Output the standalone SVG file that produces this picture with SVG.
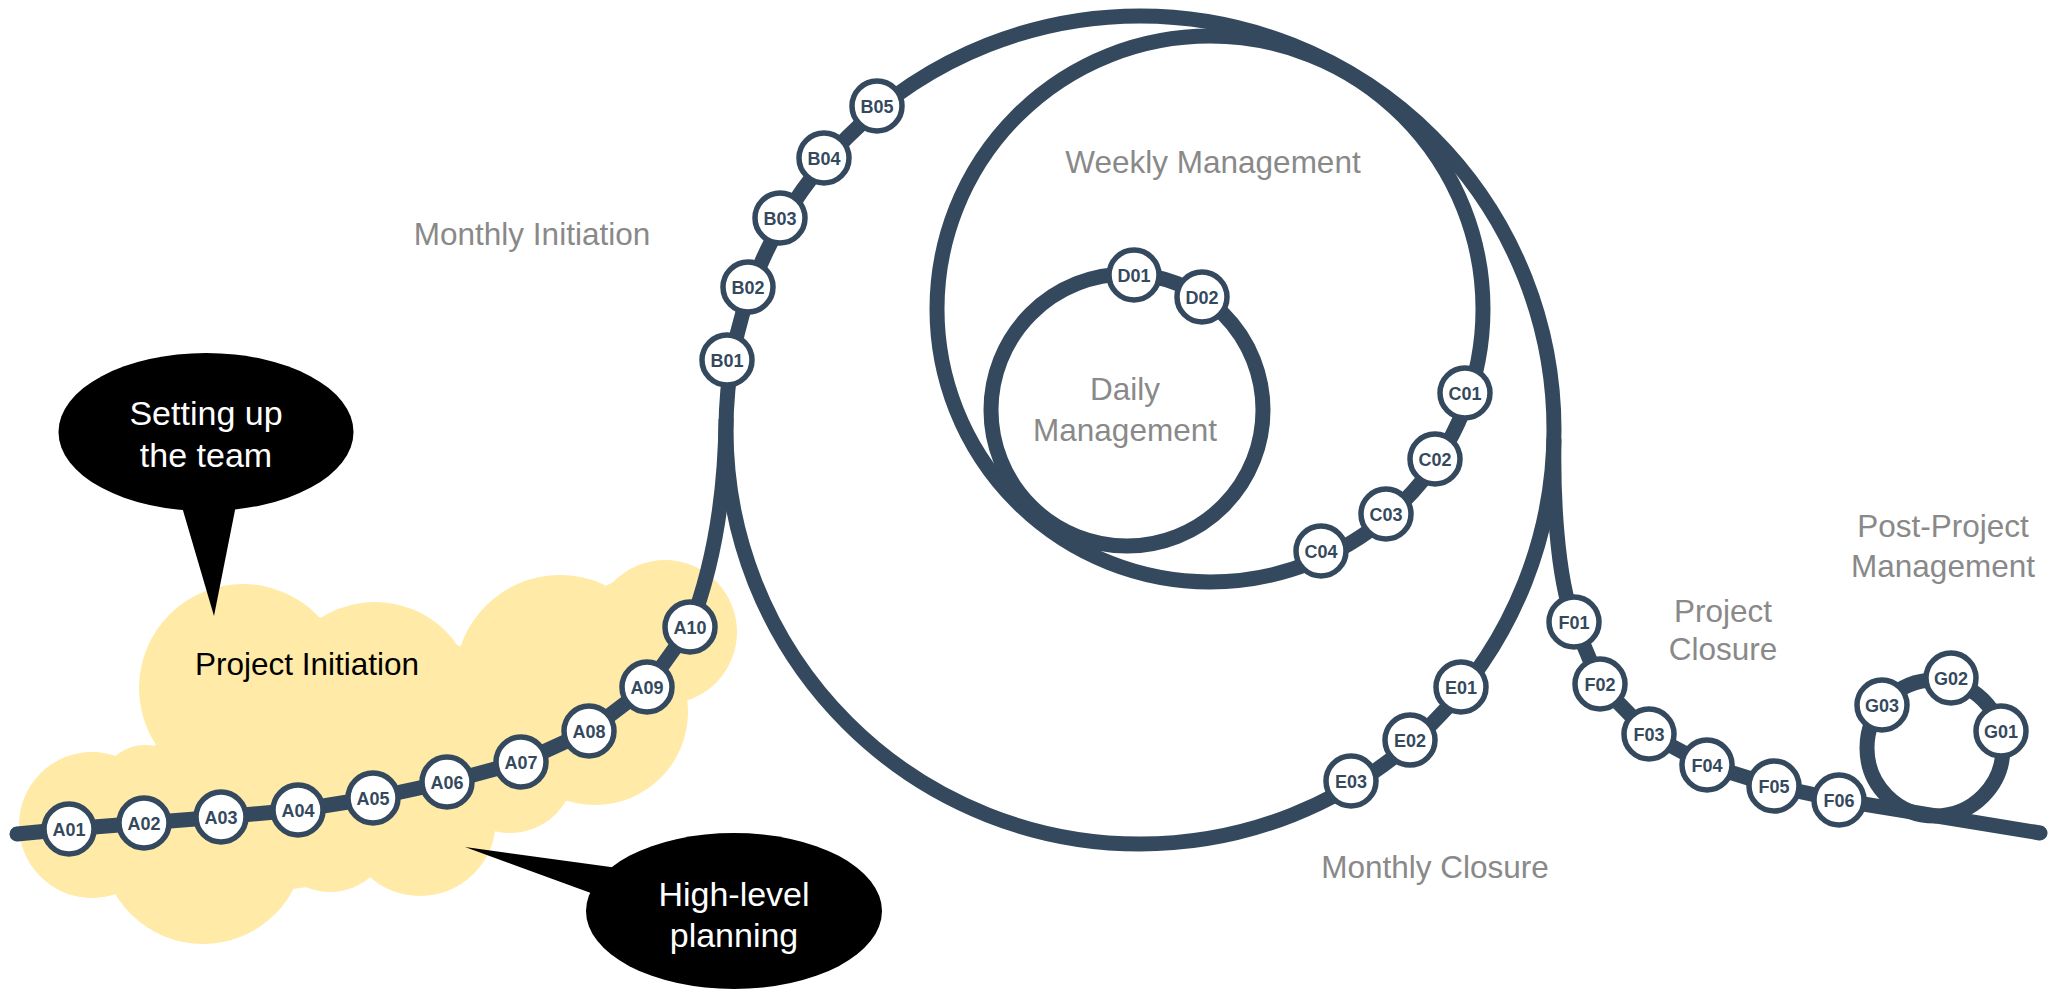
<svg xmlns="http://www.w3.org/2000/svg" width="2056" height="989" viewBox="0 0 2056 989">
<style>
.track{fill:none;stroke:#34495e;stroke-width:15;stroke-linecap:round;stroke-linejoin:round}
.node circle{fill:#ffffff;stroke:#34495e;stroke-width:5.5}
.node text{font-family:"Liberation Sans",Arial,sans-serif;font-weight:bold;font-size:18px;fill:#34495e;text-anchor:middle}
.lbl{font-family:"Liberation Sans",Arial,sans-serif;font-size:31.5px;fill:#898989;text-anchor:middle}
.dark{fill:#000000}
.call{font-family:"Liberation Sans",Arial,sans-serif;font-size:34px;fill:#ffffff;text-anchor:middle}
.cloud{fill:#ffeaa7}
</style>

<g id="cloud" class="cloud">
  <polygon points="113,892 128,763 160,742 312,616 470,648 614,582 689,699 571,799 488,831 363,879 293,889"/>
  <circle cx="92" cy="825" r="73"/>
  <circle cx="145" cy="790" r="45"/>
  <circle cx="243" cy="688" r="104"/>
  <circle cx="375" cy="702" r="100"/>
  <circle cx="560" cy="680" r="105"/>
  <circle cx="665" cy="632" r="72"/>
  <circle cx="595" cy="712" r="93"/>
  <circle cx="510" cy="768" r="65"/>
  <circle cx="420" cy="820" r="76"/>
  <circle cx="330" cy="830" r="62"/>
  <circle cx="203" cy="842" r="102"/>
</g>

<g id="labels">
  <text class="lbl" x="532" y="245">Monthly Initiation</text>
  <text class="lbl" x="1213" y="173">Weekly Management</text>
  <text class="lbl" x="1125" y="400">Daily</text>
  <text class="lbl" x="1125" y="441">Management</text>
  <text class="lbl" x="1435" y="878">Monthly Closure</text>
  <text class="lbl" x="1723" y="622">Project</text>
  <text class="lbl" x="1723" y="660">Closure</text>
  <text class="lbl" x="1943" y="537">Post-Project</text>
  <text class="lbl" x="1943" y="577">Management</text>
  <text x="307" y="675" style="font-family:'Liberation Sans',Arial,sans-serif;font-size:31.5px;fill:#000000;text-anchor:middle">Project Initiation</text>
</g>

<g id="connectors">
  <circle class="track" cx="1140" cy="430" r="414"/>
  <circle class="track" cx="1210" cy="309" r="273"/>
  <circle class="track" cx="1127" cy="410" r="136"/>
  <circle class="track" cx="1935" cy="748" r="68"/>
  <path class="track" d="M17 834 L69 829 L144 823 L221 817 L298 810 L373 798 L447 782 L521 762 L589 731 L647 687 L690 627 C710 575 725 510 726 420"/>
  <path class="track" d="M1554 440 C1553 490 1556 575 1574 622 L1600 684 L1649 734 L1707 765 L1774 786 L1839 800 L2040 833"/>
</g>

<g id="nodes">
  <g id="A01" class="node"><circle cx="69" cy="829" r="25"/><text x="69" y="835.5">A01</text></g>
  <g id="A02" class="node"><circle cx="144" cy="823" r="25"/><text x="144" y="829.5">A02</text></g>
  <g id="A03" class="node"><circle cx="221" cy="817" r="25"/><text x="221" y="823.5">A03</text></g>
  <g id="A04" class="node"><circle cx="298" cy="810" r="25"/><text x="298" y="816.5">A04</text></g>
  <g id="A05" class="node"><circle cx="373" cy="798" r="25"/><text x="373" y="804.5">A05</text></g>
  <g id="A06" class="node"><circle cx="447" cy="782" r="25"/><text x="447" y="788.5">A06</text></g>
  <g id="A07" class="node"><circle cx="521" cy="762" r="25"/><text x="521" y="768.5">A07</text></g>
  <g id="A08" class="node"><circle cx="589" cy="731" r="25"/><text x="589" y="737.5">A08</text></g>
  <g id="A09" class="node"><circle cx="647" cy="687" r="25"/><text x="647" y="693.5">A09</text></g>
  <g id="A10" class="node"><circle cx="690" cy="627" r="25"/><text x="690" y="633.5">A10</text></g>
  <g id="B01" class="node"><circle cx="727" cy="360" r="25"/><text x="727" y="366.5">B01</text></g>
  <g id="B02" class="node"><circle cx="748" cy="287" r="25"/><text x="748" y="293.5">B02</text></g>
  <g id="B03" class="node"><circle cx="780" cy="218" r="25"/><text x="780" y="224.5">B03</text></g>
  <g id="B04" class="node"><circle cx="824" cy="158" r="25"/><text x="824" y="164.5">B04</text></g>
  <g id="B05" class="node"><circle cx="877" cy="106" r="25"/><text x="877" y="112.5">B05</text></g>
  <g id="C01" class="node"><circle cx="1465" cy="393" r="25"/><text x="1465" y="399.5">C01</text></g>
  <g id="C02" class="node"><circle cx="1435" cy="459" r="25"/><text x="1435" y="465.5">C02</text></g>
  <g id="C03" class="node"><circle cx="1386" cy="514" r="25"/><text x="1386" y="520.5">C03</text></g>
  <g id="C04" class="node"><circle cx="1321" cy="551" r="25"/><text x="1321" y="557.5">C04</text></g>
  <g id="D01" class="node"><circle cx="1134" cy="275" r="25"/><text x="1134" y="281.5">D01</text></g>
  <g id="D02" class="node"><circle cx="1202" cy="297" r="25"/><text x="1202" y="303.5">D02</text></g>
  <g id="E01" class="node"><circle cx="1461" cy="687" r="25"/><text x="1461" y="693.5">E01</text></g>
  <g id="E02" class="node"><circle cx="1410" cy="740" r="25"/><text x="1410" y="746.5">E02</text></g>
  <g id="E03" class="node"><circle cx="1351" cy="781" r="25"/><text x="1351" y="787.5">E03</text></g>
  <g id="F01" class="node"><circle cx="1574" cy="622" r="25"/><text x="1574" y="628.5">F01</text></g>
  <g id="F02" class="node"><circle cx="1600" cy="684" r="25"/><text x="1600" y="690.5">F02</text></g>
  <g id="F03" class="node"><circle cx="1649" cy="734" r="25"/><text x="1649" y="740.5">F03</text></g>
  <g id="F04" class="node"><circle cx="1707" cy="765" r="25"/><text x="1707" y="771.5">F04</text></g>
  <g id="F05" class="node"><circle cx="1774" cy="786" r="25"/><text x="1774" y="792.5">F05</text></g>
  <g id="F06" class="node"><circle cx="1839" cy="800" r="25"/><text x="1839" y="806.5">F06</text></g>
  <g id="G01" class="node"><circle cx="2001" cy="731" r="25"/><text x="2001" y="737.5">G01</text></g>
  <g id="G02" class="node"><circle cx="1951" cy="678" r="25"/><text x="1951" y="684.5">G02</text></g>
  <g id="G03" class="node"><circle cx="1882" cy="705" r="25"/><text x="1882" y="711.5">G03</text></g>
</g>

<g id="callout-team">
  <polygon class="dark" points="177,490 239,490 214,616"/>
  <ellipse class="dark" cx="206" cy="432" rx="147.5" ry="79"/>
  <text class="call" x="206" y="425">Setting up</text>
  <text class="call" x="206" y="467">the team</text>
</g>

<g id="callout-planning">
  <polygon class="dark" points="465,847 640,871 610,900"/>
  <ellipse class="dark" cx="734" cy="911" rx="148" ry="78"/>
  <text class="call" x="734" y="906">High-level</text>
  <text class="call" x="734" y="947">planning</text>
</g>
</svg>
